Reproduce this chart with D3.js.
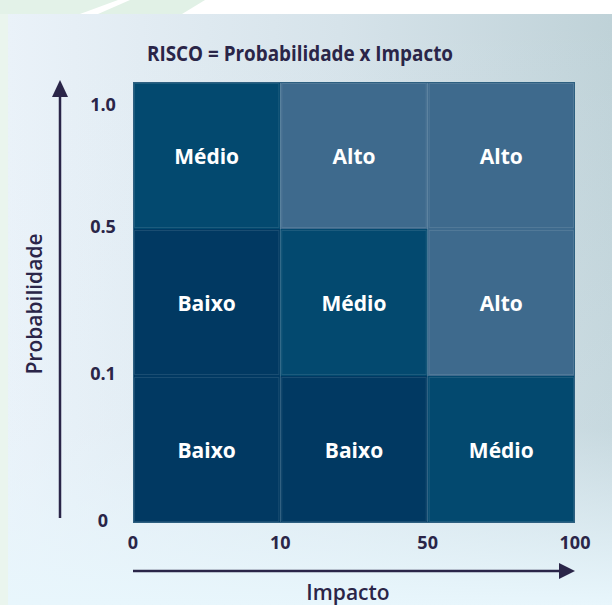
<!DOCTYPE html>
<html>
<head>
<meta charset="utf-8">
<script src="https://cdn.jsdelivr.net/npm/d3@7"></script>
<style>
  body { margin: 0; background: #fff; }
  text { font-family: "Open Sans", "Noto Sans", sans-serif; }
</style>
</head>
<body>
<div id="chart"></div>
<script>
// tick labels on each axis (band edges)
var impactTicks = ["0", "10", "50", "100"];
var probTicks = ["0", "0.1", "0.5", "1.0"];
// risk level per cell, rows from low probability to high
var riskRows = [
    ["Baixo", "Baixo", "Médio"],
    ["Baixo", "Médio", "Alto"],
    ["Médio", "Alto", "Alto"]
];
var levelColors = { "Baixo": "#013962", "Médio": "#03496f", "Alto": "#3e6a8d" };

var svgWidth = 612, svgHeight = 605;
var margin = { top: 82, right: 37, bottom: 82, left: 133 };
var inkColor = "#2a2548";

var svg = d3.select("#chart").append("svg")
    .attr("width", svgWidth)
    .attr("height", svgHeight);

var defs = svg.append("defs");
var gh = defs.append("linearGradient").attr("id", "bgH");
gh.append("stop").attr("offset", "0%").attr("stop-color", "#eaf2f9");
gh.append("stop").attr("offset", "55%").attr("stop-color", "#d6e3ea");
gh.append("stop").attr("offset", "100%").attr("stop-color", "#bfd2d8");
var gv = defs.append("linearGradient").attr("id", "bgV")
    .attr("x1", 0).attr("y1", 0).attr("x2", 0).attr("y2", 1);
gv.append("stop").attr("offset", "0%").attr("stop-color", "#e8f4fb").attr("stop-opacity", 0);
gv.append("stop").attr("offset", "70%").attr("stop-color", "#e8f4fb").attr("stop-opacity", 0.2);
gv.append("stop").attr("offset", "100%").attr("stop-color", "#e8f6fc").attr("stop-opacity", 1);

// page decoration: faint green stripes at the top left
svg.append("rect").attr("width", svgWidth).attr("height", svgHeight).attr("fill", "#fff");
svg.append("rect").attr("x", 0).attr("y", 0).attr("width", 8).attr("height", svgHeight).attr("fill", "#eaf5ee");
svg.append("polygon").attr("points", "0,0 118,0 80,14 0,14").attr("fill", "#e3f2e8");
svg.append("polygon").attr("points", "130,0 205,0 182,14 98,14").attr("fill", "#e1f1e6");

// panel background
svg.append("rect").attr("x", 8).attr("y", 14).attr("width", svgWidth - 8).attr("height", svgHeight - 14)
    .attr("fill", "url(#bgH)");
svg.append("rect").attr("x", 8).attr("y", 14).attr("width", svgWidth - 8).attr("height", svgHeight - 14)
    .attr("fill", "url(#bgV)");

var xScale = d3.scalePoint()
    .domain(impactTicks)
    .range([margin.left, svgWidth - margin.right]);
var yScale = d3.scalePoint()
    .domain(probTicks)
    .range([svgHeight - margin.bottom, margin.top]);

// flatten cells
var cells = [];
riskRows.forEach(function(row, r) {
    row.forEach(function(level, c) {
        cells.push({
            level: level,
            x0: xScale(impactTicks[c]), x1: xScale(impactTicks[c + 1]),
            y0: yScale(probTicks[r + 1]), y1: yScale(probTicks[r])
        });
    });
});

var cellGroup = svg.append("g");
cellGroup.selectAll("rect.cell")
    .data(cells)
    .enter()
    .append("rect")
    .classed("cell", true)
    .attr("x", d => d.x0)
    .attr("y", d => d.y0)
    .attr("width", d => d.x1 - d.x0)
    .attr("height", d => d.y1 - d.y0)
    .attr("fill", d => levelColors[d.level]);

// thin lighter inner border
cellGroup.selectAll("rect.edge")
    .data(cells)
    .enter()
    .append("rect")
    .classed("edge", true)
    .attr("x", d => d.x0 + 1.5)
    .attr("y", d => d.y0 + 1.5)
    .attr("width", d => d.x1 - d.x0 - 3)
    .attr("height", d => d.y1 - d.y0 - 3)
    .attr("fill", "none")
    .attr("stroke", "rgba(255,255,255,0.1)")
    .attr("stroke-width", 1);

cellGroup.append("rect")
    .attr("x", margin.left + 0.5)
    .attr("y", margin.top + 0.5)
    .attr("width", svgWidth - margin.left - margin.right - 1)
    .attr("height", svgHeight - margin.top - margin.bottom - 1)
    .attr("fill", "none")
    .attr("stroke", "#2d5f80")
    .attr("stroke-width", 1);

cellGroup.selectAll("text")
    .data(cells)
    .enter()
    .append("text")
    .attr("x", d => (d.x0 + d.x1) / 2)
    .attr("y", d => (d.y0 + d.y1) / 2 + 3)
    .attr("text-anchor", "middle")
    .attr("dominant-baseline", "middle")
    .attr("fill", "#fff")
    .attr("font-size", 21)
    .attr("font-weight", 700)
    .text(d => d.level);

// title
svg.append("text")
    .attr("x", 300)
    .attr("y", 61)
    .attr("text-anchor", "middle")
    .attr("fill", inkColor)
    .attr("font-size", 22)
    .attr("font-weight", 700)
    .attr("textLength", 306)
    .attr("lengthAdjust", "spacingAndGlyphs")
    .text("RISCO = Probabilidade x Impacto");

// x tick labels
svg.append("g").selectAll("text")
    .data(impactTicks)
    .enter()
    .append("text")
    .attr("x", d => xScale(d))
    .attr("y", 549)
    .attr("text-anchor", "middle")
    .attr("fill", inkColor)
    .attr("font-size", 18)
    .attr("font-weight", 700)
    .text(d => d);

// y tick labels
svg.append("g").selectAll("text")
    .data(probTicks)
    .enter()
    .append("text")
    .attr("x", 103)
    .attr("y", d => Math.max(yScale(d) - 2, margin.top + 23) + 6)
    .attr("text-anchor", "middle")
    .attr("fill", inkColor)
    .attr("font-size", 18)
    .attr("font-weight", 700)
    .text(d => d);

// axis arrows
var x0 = xScale.range()[0], x1 = xScale.range()[1];
svg.append("line")
    .attr("x1", x0).attr("x2", x1 - 14)
    .attr("y1", 571).attr("y2", 571)
    .attr("stroke", inkColor).attr("stroke-width", 2.5);
svg.append("polygon")
    .attr("points", [[x1 - 16, 563], [x1, 571], [x1 - 16, 579]].join(" "))
    .attr("fill", inkColor);

var yTop = 80, yBot = 518;
svg.append("line")
    .attr("x1", 60).attr("x2", 60)
    .attr("y1", yTop + 14).attr("y2", yBot)
    .attr("stroke", inkColor).attr("stroke-width", 2.5);
svg.append("polygon")
    .attr("points", [[52, yTop + 17], [60, yTop], [68, yTop + 17]].join(" "))
    .attr("fill", inkColor);

// axis titles
svg.append("text")
    .attr("x", 348)
    .attr("y", 600)
    .attr("text-anchor", "middle")
    .attr("fill", inkColor)
    .attr("font-size", 21)
    .attr("font-weight", 600)
    .text("Impacto");

svg.append("text")
    .attr("transform", "translate(42, 304) rotate(-90)")
    .attr("text-anchor", "middle")
    .attr("fill", inkColor)
    .attr("font-size", 21)
    .attr("font-weight", 600)
    .text("Probabilidade");
</script>
</body>
</html>
